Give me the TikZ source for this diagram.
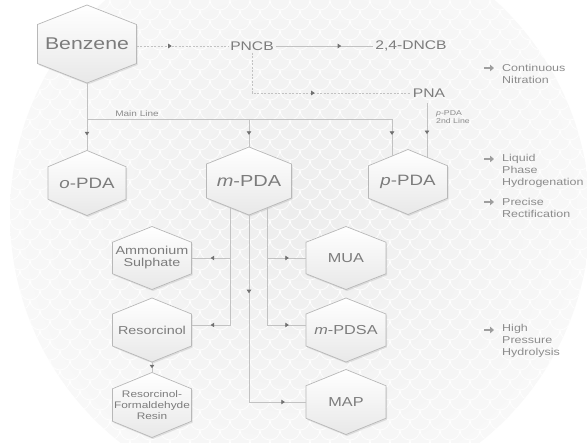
\documentclass[tikz,border=0pt]{standalone}
\usepackage{fontspec}
\setmainfont[FakeStretch=1.25]{Liberation Sans}
\usetikzlibrary{arrows.meta,decorations.markings,shadows,calc}
\definecolor{txtc}{HTML}{7C7C7C}
\definecolor{lblc}{HTML}{8C8C8C}
\definecolor{linec}{HTML}{C2C2C2}
\definecolor{tipc}{HTML}{707070}
\definecolor{bgc}{HTML}{EDEDED}
\definecolor{bgouter}{HTML}{F8F8F8}
\definecolor{hexborder}{HTML}{B8B8B8}
\tikzset{
  tipshape/.tip={Triangle[length=3.5pt,width=4.5pt,color=tipc]},
  conn/.style={draw=linec,line width=0.7pt},
  dconn/.style={conn,dash pattern=on 2pt off 1.5pt},
  arrowat/.style={postaction={decorate,decoration={markings,mark=at position #1 with {\arrow{tipshape}}}}},
  arrowtwo/.style 2 args={postaction={decorate,decoration={markings,mark=at position #1 with {\arrow{tipshape}},mark=at position #2 with {\arrow{tipshape}}}}},
  hexfill/.style={draw=hexborder,line width=0.7pt,top color=white,bottom color=black!9,
    drop shadow={opacity=0.2,shadow xshift=1pt,shadow yshift=-1.5pt}},
  hexlabel/.style={draw=none,inner sep=0pt,align=center,text=txtc},
  plain/.style={inner sep=2pt,text=txtc,font=\fontsize{12.5}{15}\selectfont},
  smalllbl/.style={inner sep=0pt,text=lblc,align=left},
  legend/.style={anchor=west,align=left,inner sep=0pt,text=lblc,font=\fontsize{10}{12}\selectfont},
  legicon/.style={draw=black!38,line width=2.2pt,-{Triangle[length=4pt,width=6.5pt,color=black!38]}},
  scaleline/.style={draw=white,line width=0.7pt}
}
\newcommand{\hexn}[7]{%
  \path[hexfill] ({#2},{#3-#5/2}) -- ({#2+#4/2},{#3-#5/4}) -- ({#2+#4/2},{#3+#5/4})
    -- ({#2},{#3+#5/2}) -- ({#2-#4/2},{#3+#5/4}) -- ({#2-#4/2},{#3-#5/4}) -- cycle;
  \node[hexlabel,minimum width=#4pt,minimum height=#5pt,font=#6] (#1) at (#2,#3) {#7};
}
\begin{document}
\begin{tikzpicture}[x=1pt,y=-1pt]
\useasboundingbox (0,0) rectangle (587,443);
\fill[white] (0,0) rectangle (587,443);
% background scale pattern
\begin{scope}
  \clip (300,215) circle[radius=290];
  \shade[inner color=bgc,outer color=bgouter] (300,215) circle[radius=290];
  \foreach \j in {0,...,45}{
    \pgfmathsetmacro\off{mod(\j,2)*10}
    \foreach \i in {0,...,30}{
      \draw[scaleline] ({\i*20+\off-10},{\j*10}) arc[start angle=180,end angle=0,radius=10];
    }
  }
\end{scope}

% hexagon nodes
\hexn{benz}{87}{44}{99}{78}{\fontsize{17}{20}\selectfont}{Benzene}
\hexn{opda}{87}{183}{78}{65}{\fontsize{15}{18}\selectfont}{\textit{o}-PDA}
\hexn{mpda}{249}{181}{85}{68}{\fontsize{16}{19}\selectfont}{\textit{m}-PDA}
\hexn{ppda}{408}{182}{79}{65}{\fontsize{15}{18}\selectfont}{\textit{p}-PDA}
\hexn{amm}{152}{258}{79}{63}{\fontsize{11.5}{12}\selectfont}{Ammonium\\Sulphate}
\hexn{res}{152}{330}{79}{64}{\fontsize{11.5}{13}\selectfont}{Resorcinol}
\hexn{rfr}{152}{405}{79}{65}{\fontsize{9.5}{11}\selectfont}{Resorcinol-\\Formaldehyde\\Resin}
\hexn{mua}{346}{258}{80}{63}{\fontsize{13}{15}\selectfont}{MUA}
\hexn{mpdsa}{346}{330}{80}{64}{\fontsize{13}{15}\selectfont}{\textit{m}-PDSA}
\hexn{map}{346}{402}{80}{65}{\fontsize{13}{15}\selectfont}{MAP}

% text nodes
\node[plain] (pncb) at (252,46) {PNCB};
\node[plain] (dncb) at (411,46) {2,4-DNCB};
\node[plain] (pna) at (429,93) {PNA};
\node[smalllbl,font=\fontsize{8}{9}\selectfont] (mainlbl) at (137,114) {Main Line};
\node[smalllbl,anchor=west,font=\fontsize{7}{7.8}\selectfont] (ppdalbl) at (436,117) {\textit{p}-PDA\\2nd Line};

% helper coordinates
\coordinate (mainL) at (87,119);
\coordinate (mainM) at (mpda.north |- mainL);
\coordinate (ppdaL) at ($(ppda.north)+(-16,6.6)$);
\coordinate (ppdaR) at ($(ppda.north)+(19,7.8)$);
\coordinate (mpdaLL) at ($(mpda.south)+(-19,-7.6)$);
\coordinate (mpdaLR) at ($(mpda.south)+(18,-7.2)$);
\coordinate (resE) at ($(res.east)+(0,-5)$);
\coordinate (mpdsaW) at ($(mpdsa.west)+(0,-5)$);

% connectors
\draw[dconn,arrowat=35pt] (benz.east |- pncb.west) -- (pncb.west);
\draw[conn,arrowat=-32pt] (pncb.east) -- (dncb.west);
\draw[dconn,arrowat=-96pt] (pncb.south) |- (pna.west);
\draw[conn,arrowat=-15pt] (benz.south) -- (opda.north);
\draw[conn,arrowat=-21pt] (mainL) -| (ppdaL);
\draw[conn,arrowat=-12pt] (mainM) -- (mpda.north);
\draw[conn,arrowat=-23pt] ($(ppdaR |- pna.south)+(0,4)$) -- (ppdaR);
\draw[conn,arrowat=-19pt] (mpdaLL) |- (amm.east);
\draw[conn,arrowat=-19pt] (mpdaLL) |- (resE);
\draw[conn,arrowtwo={78pt}{-21pt}] (mpda.south) |- (map.west);
\draw[conn,arrowat=-17pt] (mpdaLR) |- (mua.west);
\draw[conn,arrowat=-17pt] (mpdaLR) |- (mpdsaW);
\draw[conn,arrowat=0.6] (res.south) -- (rfr.north);

% legend
\node[legend] (leg1) at (502,74) {Continuous\\Nitration};
\node[legend] (leg2) at (502,171) {Liquid\\Phase\\Hydrogenation};
\node[legend] (leg3) at (502,207.5) {Precise\\Rectification};
\node[legend] (leg4) at (502,341) {High\\Pressure\\Hydrolysis};
\draw[legicon] ($(leg1.west)+(-18,-6)$) -- ++(10,0);
\draw[legicon] ($(leg2.west)+(-18,-12)$) -- ++(10,0);
\draw[legicon] ($(leg3.west)+(-18,-5.5)$) -- ++(10,0);
\draw[legicon] ($(leg4.west)+(-18,-11)$) -- ++(10,0);
\end{tikzpicture}
\end{document}
